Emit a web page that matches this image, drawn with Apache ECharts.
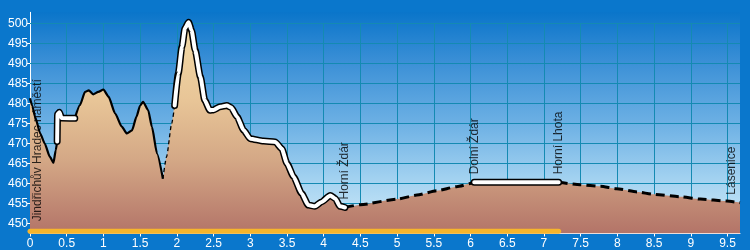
<!DOCTYPE html>
<html><head><meta charset="utf-8">
<script src="https://cdn.jsdelivr.net/npm/echarts@6/dist/echarts.min.js"></script>
<style>html,body{margin:0;padding:0;background:#0a77cc}#c{width:750px;height:250px}</style>
</head><body><div id="c"></div>
<script>
// profile: distance (km) and elevation (m)
const distKm = [0.00,0.03,0.07,0.14,0.20,0.27,0.32,0.35,0.37,0.375,0.40,0.43,0.61,0.68,0.75,0.80,0.86,0.93,1.00,1.07,1.16,1.25,1.32,1.39,1.45,1.50,1.54,1.61,1.66,1.73,1.81,1.86,1.93,1.97,2.02,2.07,2.11,2.16,2.20,2.25,2.32,2.38,2.45,2.50,2.59,2.68,2.74,2.82,2.91,3.00,3.18,3.34,3.43,3.50,3.59,3.70,3.79,3.88,3.97,4.09,4.16,4.22,4.29,4.50,5.00,5.27,5.54,5.81,6.05,7.20,7.49,7.77,7.99,8.27,8.49,8.86,9.13,9.49,9.67];
const elevM  = [481.3,479.5,476.6,472.5,470.0,466.7,465.2,468.3,470.5,477.3,477.8,476.4,476.3,479.6,482.9,483.3,482.3,482.9,483.5,481.7,477.5,474.2,472.5,473.3,476.7,479.5,480.4,478.3,474.2,467.5,461.2,466.7,475.0,479.5,487.5,494.2,498.8,500.3,498.3,493.3,486.7,480.8,478.3,478.4,479.2,479.5,479.0,476.7,473.3,471.2,470.6,470.4,468.7,465.0,461.7,457.5,454.6,454.3,455.4,457.0,456.2,454.3,454.0,454.7,456.1,457.1,458.2,459.2,460.3,460.3,459.7,459.3,458.7,457.9,457.3,456.7,456.1,455.6,455.2];
// route surface segments (km ranges)
const solidRanges = [[0,0.37],[0.61,1.81]];
const thinDashRanges = [[1.81,1.97]];
const roadRanges = [[0.37,0.61],[1.97,4.29],[6.05,7.2]];
const dashRanges = [[4.29,6.05],[7.2,9.67]];
const highlightRange = [0, 7.2];
// waypoints
const waypointNames = ['Jindřichův Hradec náměstí','Horní Ždár','Dolní Ždár','Horní Lhota','Lásenice'];
const waypointKm = [0, 4.29, 6.05, 7.2, 9.67];
// axes
const xMin = 0, xMax = 9.67, xStep = 0.5;
const yMin = 447.5, yMax = 502.8, yTickMin = 450, yTickMax = 500, yStep = 5;
const yTicks = [450,455,460,465,470,475,480,485,490,495,500];

const profile = distKm.map((d,i)=>[d, elevM[i]]);
function pick(ranges){
  const out = [];
  ranges.forEach((r,k)=>{
    if(k>0) out.push([(ranges[k-1][1]+r[0])/2,'-']);
    profile.forEach(p=>{ if(p[0]>=r[0]-1e-9 && p[0]<=r[1]+1e-9) out.push(p); });
  });
  return out;
}
function elevAt(km){
  for(let i=1;i<distKm.length;i++){
    if(km<=distKm[i]){const t=(km-distKm[i-1])/(distKm[i]-distKm[i-1]);return elevM[i-1]+t*(elevM[i]-elevM[i-1]);}
  }
  return elevM[elevM.length-1];
}
// horizontal grid lines as gapped polyline
const hGrid = [];
yTicks.forEach((v,i)=>{ if(i>0) hGrid.push([(xMin+xMax)/2,'-']); hGrid.push([xMin,v]); hGrid.push([xMax,v]); });

const FONT = 'Liberation Sans, Arial, sans-serif';
const chart = echarts.init(document.getElementById('c'), null, {renderer:'canvas'});
const SM = 0.2;
const lineBase = {type:'line', xAxisIndex:0, yAxisIndex:0, showSymbol:false, symbol:'none', smooth:SM, smoothMonotone:'x', silent:true, animation:false};
const labelOffsets = [[-131,8],[0,0],[0,0],[0,0],[0,-8]];
const GRIDC = '#148ab2';
chart.setOption({
  animation:false,
  backgroundColor:'#0a77cc',
  grid:[
    {left:30, right:10, top:12.3, height:221.2, show:true, borderWidth:0, z:0,
     backgroundColor:{type:'linear',x:0,y:0,x2:0,y2:1,colorStops:[
       {offset:0,color:'#0a75ca'},{offset:0.22,color:'#3a8fd6'},{offset:0.5,color:'#6cb0e4'},{offset:0.77,color:'#a6d4f1'},{offset:1,color:'#d4ecf9'}]}},
    {left:30, right:10, top:23.5, height:200, show:false}
  ],
  xAxis:[
    {type:'value', gridIndex:0, min:xMin, max:xMax, interval:xStep, z:3,
     axisLine:{show:true, onZero:false, lineStyle:{color:'#ffffff', width:1}},
     axisTick:{show:true, length:3, lineStyle:{color:'#ffffff'}},
     axisLabel:{color:'#ffffff', fontSize:12, fontFamily:FONT, margin:4, showMaxLabel:false},
     splitLine:{show:false}},
    {type:'value', gridIndex:1, min:xMin, max:xMax, interval:xStep, z:3,
     axisLine:{show:false}, axisTick:{show:false}, axisLabel:{show:false},
     splitLine:{show:true, showMaxLine:false, lineStyle:{color:GRIDC, width:1}}}
  ],
  yAxis:[
    {type:'value', gridIndex:0, min:yMin, max:yMax, z:3,
     axisLine:{show:true, onZero:false, lineStyle:{color:'#ffffff', width:1}},
     axisTick:{show:false}, axisLabel:{show:false}, splitLine:{show:false}},
    {type:'value', gridIndex:1, min:yTickMin, max:yTickMax, interval:yStep, z:3,
     axisLine:{show:false}, axisTick:{show:true, length:3, lineStyle:{color:'#ffffff'}},
     axisLabel:{color:'#ffffff', fontSize:12, fontFamily:FONT, margin:2},
     splitLine:{show:false}}
  ],
  series:[
    {type:'line', name:'hgrid', xAxisIndex:1, yAxisIndex:1, z:4, silent:true, showSymbol:false, symbol:'none',
     animation:false, connectNulls:false, data:hGrid, lineStyle:{color:GRIDC, width:1, opacity:1}},
    Object.assign({}, lineBase, {name:'terrain', data:profile, lineStyle:{width:0}, z:5,
      areaStyle:{origin:'start', opacity:1, color:{type:'linear',x:0,y:0,x2:0,y2:1,colorStops:[
        {offset:0,color:'#f3dba8'},{offset:0.37,color:'#e8c597'},{offset:0.65,color:'#d4a886'},{offset:1,color:'#b37468'}]}}}),
    Object.assign({}, lineBase, {name:'highlight', smooth:false, z:6,
      data:[[highlightRange[0], yMin+0.55],[highlightRange[1], yMin+0.55]],
      lineStyle:{color:'#f7b52c', width:5, cap:'round'}}),
    Object.assign({}, lineBase, {name:'solid', data:pick(solidRanges), z:7,
      lineStyle:{color:'#000', width:2.2}}),
    Object.assign({}, lineBase, {name:'thindash', data:pick(thinDashRanges), z:7,
      lineStyle:{color:'#000', width:1.3, type:[4,3]}}),
    Object.assign({}, lineBase, {name:'dash', data:pick(dashRanges), z:7,
      lineStyle:{color:'#000', width:3, type:[9,5]}}),
    Object.assign({}, lineBase, {name:'roadCasing', data:pick(roadRanges), z:8,
      lineStyle:{color:'#000', width:7, cap:'round', join:'round'}}),
    Object.assign({}, lineBase, {name:'road', data:pick(roadRanges), z:9,
      lineStyle:{color:'#fff', width:4, cap:'round', join:'round'}}),
    {type:'scatter', xAxisIndex:0, yAxisIndex:0, symbolSize:0, silent:true, z:10,
     data:waypointKm.map((k,i)=>({value:[k, elevAt(k)], name:waypointNames[i],
       label:{offset:labelOffsets[i]}})),
     label:{show:true, position:'top', distance:8, rotate:90, align:'left', verticalAlign:'middle',
       formatter:p=>p.name, color:'#000', fontSize:12, fontFamily:FONT}}
  ]
});
</script></body></html>
